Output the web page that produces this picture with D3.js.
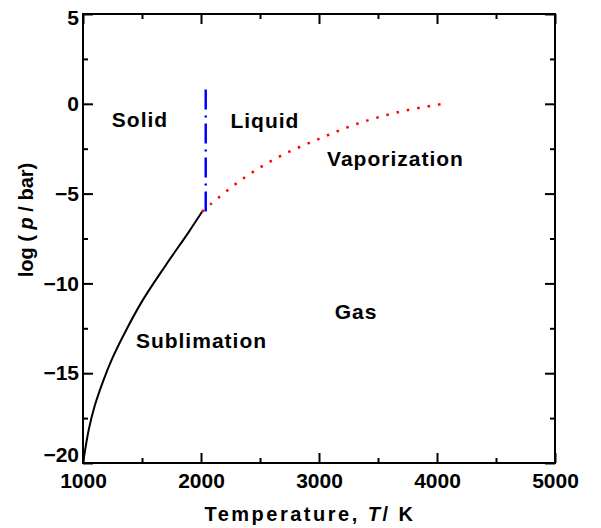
<!DOCTYPE html>
<html>
<head>
  <meta charset="utf-8">
  <title>Phase diagram</title>
  <style>
    body { margin: 0; background: #fff; }
    text { font-family: "Liberation Sans", Arial, sans-serif; font-weight: bold; }
  </style>
</head>
<body>
  <script src="https://d3js.org/d3.v7.min.js"></script>
  <script>
    // sublimation curve (solid black)
    var subT = [1000, 1025, 1050, 1100, 1170, 1250, 1350, 1500, 1700, 1900, 2010];
    var subLogP = [-20, -19.0, -18.1, -16.8, -15.45, -14.15, -12.8, -11.0, -9.0, -7.1, -6.0];
    // vaporization curve (red dotted)
    var vapT = [2010, 2080, 2360, 2660, 3000, 3330, 3680, 4050];
    var vapLogP = [-6.0, -5.6, -4.15, -2.95, -1.95, -1.1, -0.45, 0.0];
    // melting line (blue dash-dot)
    var meltT = [2040, 2040];
    var meltLogP = [-6, 1];

    var xTicks = [1000, 2000, 3000, 4000, 5000];
    var xMinor = [1500, 2500, 3500, 4500];
    var yTicks = [-20, -15, -10, -5, 0, 5];
    var yMinor = [-17.5, -12.5, -7.5, -2.5, 2.5];

    var labels = [
      { text: 'Solid', T: 1483, p: -1.28 },
      { text: 'Liquid', T: 2542, p: -1.34 },
      { text: 'Vaporization', T: 3648, p: -3.49 },
      { text: 'Gas', T: 3314, p: -12.0 },
      { text: 'Sublimation', T: 2004, p: -13.59 }
    ];

    var W = 601, H = 528;
    var plotL = 83, plotR = 555, plotT = 14, plotB = 463;

    var svg = d3.select('body').append('svg')
      .attr('width', W)
      .attr('height', H);

    var x = d3.scaleLinear().domain([1000, 5000]).range([plotL, plotR]);
    var y = d3.scaleLinear().domain([-20, 5]).range([plotB, plotT]);

    //軸 (ticks inward on all sides)
    function styleAxis(g) {
      g.select('.domain').remove();
      g.selectAll('.tick line').attr('stroke', '#000').attr('stroke-width', 2);
      g.selectAll('.tick text').attr('fill', '#000').style('font-size', '21px');
    }

    svg.append('g').attr('transform', `translate(0,${plotB})`)
      .call(d3.axisBottom(x).tickValues(xTicks).tickSize(-10).tickPadding(10).tickFormat(d3.format('d')))
      .call(styleAxis);
    svg.append('g').attr('transform', `translate(0,${plotB})`)
      .call(d3.axisBottom(x).tickValues(xMinor).tickSize(-5).tickFormat(''))
      .call(styleAxis);
    svg.append('g').attr('transform', `translate(0,${plotT})`)
      .call(d3.axisTop(x).tickValues(xTicks).tickSize(-10).tickFormat(''))
      .call(styleAxis);
    svg.append('g').attr('transform', `translate(0,${plotT})`)
      .call(d3.axisTop(x).tickValues(xMinor).tickSize(-5).tickFormat(''))
      .call(styleAxis);

    var yAxis = svg.append('g').attr('transform', `translate(${plotL},0)`)
      .call(d3.axisLeft(y).tickValues(yTicks).tickSize(-10).tickPadding(4))
      .call(styleAxis);
    // bottom and top labels sit a little inside, as in the original
    yAxis.selectAll('.tick text')
      .attr('dy', d => d === -20 ? '-0.05em' : d === 5 ? '0.5em' : '0.32em');
    svg.append('g').attr('transform', `translate(${plotL},0)`)
      .call(d3.axisLeft(y).tickValues(yMinor).tickSize(-5).tickFormat(''))
      .call(styleAxis);
    svg.append('g').attr('transform', `translate(${plotR},0)`)
      .call(d3.axisRight(y).tickValues(yTicks).tickSize(-10).tickFormat(''))
      .call(styleAxis);
    svg.append('g').attr('transform', `translate(${plotR},0)`)
      .call(d3.axisRight(y).tickValues(yMinor).tickSize(-5).tickFormat(''))
      .call(styleAxis);

    // frame
    svg.append('rect')
      .attr('x', plotL).attr('y', plotT)
      .attr('width', plotR - plotL).attr('height', plotB - plotT)
      .attr('fill', 'none').attr('stroke', '#000').attr('stroke-width', 2);

    var line = d3.line()
      .x(d => x(d[0]))
      .y(d => y(d[1]))
      .curve(d3.curveCatmullRom.alpha(0.5));

    svg.append('path')
      .datum(d3.zip(subT, subLogP))
      .attr('d', line)
      .attr('fill', 'none').attr('stroke', '#000').attr('stroke-width', 2);

    svg.append('path')
      .datum(d3.zip(vapT, vapLogP))
      .attr('d', line)
      .attr('fill', 'none').attr('stroke', '#ff0000').attr('stroke-width', 2.5)
      .attr('stroke-dasharray', '2.5,8');

    svg.append('path')
      .datum(d3.zip(meltT, meltLogP))
      .attr('d', d3.line().x(d => x(d[0])).y(d => y(d[1])))
      .attr('fill', 'none').attr('stroke', '#0000ff').attr('stroke-width', 2.5)
      .attr('stroke-dasharray', '20,6,2,6');

    // region labels
    svg.selectAll('.lbl').data(labels).enter().append('text')
      .attr('class', 'lbl')
      .attr('x', d => x(d.T))
      .attr('y', d => y(d.p))
      .attr('text-anchor', 'middle')
      .style('font-size', '21px')
      .style('letter-spacing', '1px')
      .text(d => d.text);

    // axis titles
    var xt = svg.append('text')
      .attr('x', (plotL + plotR) / 2 - 9)
      .attr('y', 521)
      .attr('text-anchor', 'middle')
      .style('font-size', '20px')
      .style('letter-spacing', '2.5px');
    xt.append('tspan').text('Temperature, ');
    xt.append('tspan').style('font-style', 'italic').text('T');
    xt.append('tspan').text('/ K');

    var yt = svg.append('text')
      .attr('transform', 'translate(33,220) rotate(-90)')
      .attr('text-anchor', 'middle')
      .style('font-size', '20px');
    yt.append('tspan').text('log ( ');
    yt.append('tspan').style('font-style', 'italic').text('p');
    yt.append('tspan').text(' / bar)');
  </script>
</body>
</html>
